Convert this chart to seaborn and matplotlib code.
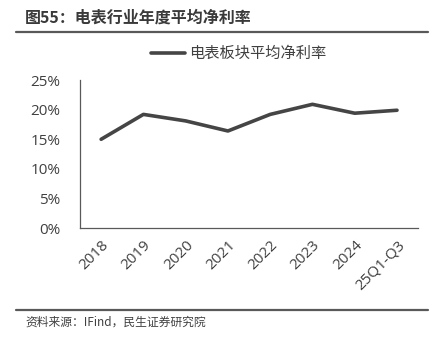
import pandas as pd
import matplotlib
matplotlib.use("Agg")
import matplotlib.pyplot as plt
import seaborn as sns
from matplotlib.ticker import PercentFormatter
from matplotlib.lines import Line2D

years = ["2018", "2019", "2020", "2021", "2022", "2023", "2024", "25Q1-Q3"]
net_margin = [15.0, 19.2, 18.1, 16.4, 19.2, 20.9, 19.4, 19.9]
series_name = "电表板块平均净利率"

df = pd.DataFrame({"year": years, "margin": net_margin})

sns.set_theme(style="white")
plt.rcParams["font.family"] = ["Open Sans", "Noto Sans CJK SC", "DejaVu Sans"]

line_color = "#454545"
text_color = "#404040"

fig = plt.figure(figsize=(4.42, 3.51), dpi=100)
ax = fig.add_axes([0.181, 0.350, 0.765, 0.422])

sns.lineplot(data=df, x="year", y="margin", color=line_color, linewidth=2.6,
             sort=False, ax=ax)

ax.set_xlim(-0.5, len(years) - 0.5)
ax.set_ylim(0, 25)
ax.set_yticks([0, 5, 10, 15, 20, 25])
ax.yaxis.set_major_formatter(PercentFormatter(decimals=0))
ax.set_xlabel("")
ax.set_ylabel("")

for s in ["top", "right"]:
    ax.spines[s].set_visible(False)
for s in ["left", "bottom"]:
    ax.spines[s].set_color("#595959")
    ax.spines[s].set_linewidth(0.9)

ax.tick_params(axis="y", direction="in", length=4, width=0.9, color="#595959",
               labelsize=11, labelcolor=text_color, pad=14)
ax.tick_params(axis="x", length=0, labelsize=11, labelcolor=text_color, pad=7)
plt.setp(ax.get_xticklabels(), rotation=45, ha="right", rotation_mode="anchor")

handle = Line2D([], [], color=line_color, linewidth=2.6)
leg = fig.legend([handle], [series_name], loc="center", bbox_to_anchor=(0.54, 0.848),
                 frameon=False, fontsize=11, handlelength=2.2, handletextpad=0.3,
                 prop={"family": ["Noto Sans CJK SC", "DejaVu Sans"], "size": 11})
for t in leg.get_texts():
    t.set_color(text_color)

fig.text(0.057, 0.951, "图55：电表行业年度平均净利率", fontsize=11.5, fontweight="bold",
         color="#3a3a3a", va="center", ha="left",
         family=["Noto Sans CJK SC", "DejaVu Sans"])
fig.add_artist(Line2D([0.036, 0.968], [0.910, 0.910], color="#595959", linewidth=1.6))
fig.add_artist(Line2D([0.036, 0.968], [0.117, 0.117], color="#595959", linewidth=1.6))
fig.text(0.057, 0.083, "资料来源：IFind，民生证券研究院", fontsize=8.5,
         color=text_color, va="center", ha="left",
         family=["Noto Sans CJK SC", "DejaVu Sans"])

fig.savefig("out.png", dpi=100)
plt.close(fig)
